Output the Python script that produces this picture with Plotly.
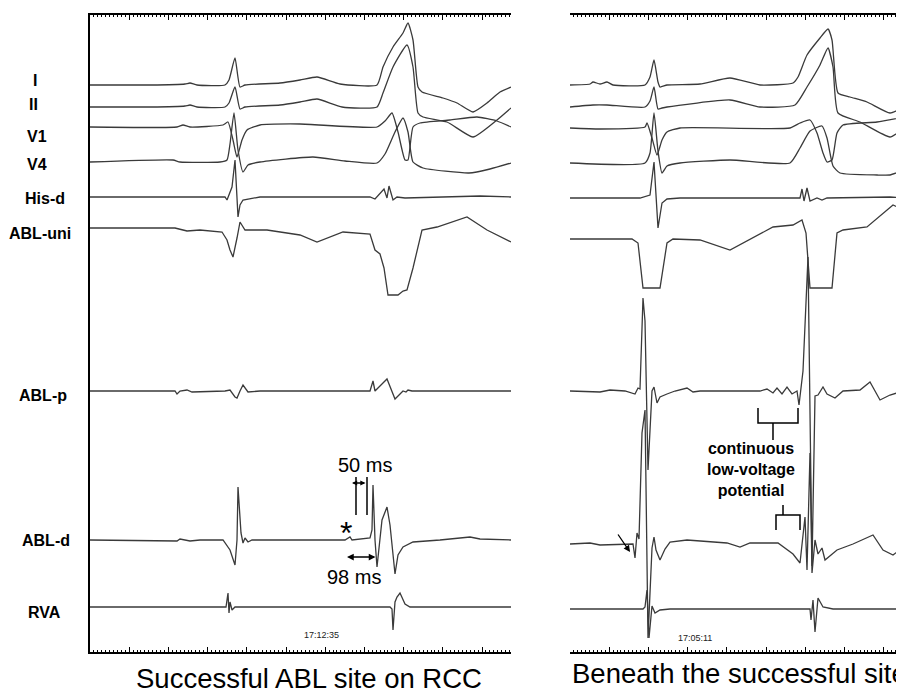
import plotly.graph_objects as go

# The page body has an 8 px margin, so the figure is drawn 8 px in from the window corner.
PAGE_OFF = 8
W, H = 904 - PAGE_OFF, 690 - PAGE_OFF

channels = ["I", "II", "V1", "V4", "His-d", "ABL-uni", "ABL-p", "ABL-d", "RVA"]

# ---------------- Left panel (Successful ABL site on RCC): time in ms, amplitude in display units
L_I_t = [0, 150, 237.5, 250, 267.5, 337.5, 347.5, 362.5, 375, 387.5, 475, 525, 567.5, 625, 717.5, 732.5, 757.5, 782.5, 795, 807.5, 820, 830, 882.5, 917.5, 957.5, 992.5, 1025, 1052.5]
L_I_v = [0, 0, 1, 2, 0, 0, 5, 27, -2, 0, 2, 5, 8, 1, 0, 18, 38, 52, 62, 45, -2, -7, -13, -18, -27, -18, -7, -2]
L_II_t = [0, 150, 237.5, 250, 267.5, 337.5, 347.5, 362.5, 375, 387.5, 475, 525, 567.5, 630, 717.5, 732.5, 757.5, 792.5, 807.5, 820, 832.5, 892.5, 957.5, 1017.5, 1052.5]
L_II_v = [0, 0, 1, 2, 0, 0, 4, 20, -2, 0, 2, 5, 8, 0, 0, 14, 40, 62, 40, -6, -10, -15, -30, -13, -1]
L_V1_t = [0, 217.5, 232.5, 250, 332.5, 345, 357.5, 367.5, 380, 392.5, 425, 525, 717.5, 737.5, 755, 770, 787.5, 795, 807.5, 825, 900, 967.5, 1017.5, 1052.5]
L_V1_v = [0, 0, 2, 0, 2, 5, -13, -30, -13, -3, 2, 3, 0, 6, 14, -5, -33, -33, 0, 4, 7, 10, 6, 0]
L_V4_t = [0, 207.5, 225, 325, 342.5, 350, 360, 370, 382.5, 395, 425, 557.5, 637.5, 717.5, 737.5, 762.5, 782.5, 795, 807.5, 832.5, 947.5, 1000, 1052.5]
L_V4_v = [0, 2, 0, 0, 2, 18, 49, 12, -10, -3, 0, 5, 1, -1, 8, 30, 44, 30, 0, -6, -11, -7, -1]
L_His_t = [0, 337.5, 342.5, 355, 362.5, 370, 375, 382.5, 425, 700, 712.5, 735, 742.5, 747.5, 757.5, 767.5, 787.5, 975, 1052.5]
L_His_v = [0, 0, -3, 10, 37, -20, -8, -3, 0, 0, -2, 8, -1, 11, -3, 0, -1, 1, 0]
L_Uni_t = [0, 212.5, 242.5, 275, 330, 342.5, 350, 357.5, 367.5, 375, 387.5, 442.5, 525, 567.5, 632.5, 700, 712.5, 720, 725, 735, 745, 770, 782.5, 792.5, 807.5, 830, 867.5, 942.5, 992.5, 1052.5]
L_Uni_v = [0, 0, -3, -2, -4, -12, -22, -29, -10, 6, -2, -2, -7, -14, -4, -6, -22, -25, -26, -40, -67, -67, -63, -62, -40, -2, 1, 11, -2, -14]
L_ABLp_t = [0, 212.5, 217.5, 225, 242.5, 255, 337.5, 350, 362.5, 367.5, 375, 382.5, 395, 425, 700, 707.5, 712.5, 725, 742.5, 762.5, 782.5, 790, 795, 805, 1052.5]
L_ABLp_v = [0, 0, -3, 0, 1, -1, 0, 1, -6, -7, 0, 6, -1, 0, 0, 10, 0, 5, 12, -8, 0, -1, 1, 0, 0]
L_ABLd_t = [0, 217.5, 225, 250, 275, 332.5, 350, 362.5, 367.5, 370, 377.5, 382.5, 387.5, 395, 405, 637.5, 650, 655, 700, 705, 707.5, 712.5, 717.5, 725, 730, 742.5, 750, 762.5, 770, 782.5, 807.5, 875, 950, 975, 1052.5]
L_ABLd_v = [0, -1, 1, -1, 0, 0, -10, -25, 0, 53, 7, -3, 2, -2, 0, 0, 3, 0, 2, 10, 55, 0, -27, 5, 20, 33, 15, -34, -15, -7, -2, 0, 3, 1, 0]
L_RVA_t = [0, 340, 345, 347.5, 350, 355, 362.5, 750, 755, 757.5, 762.5, 767.5, 775, 787.5, 800, 1052.5]
L_RVA_v = [0, 0, 14, -6, 5, -3, 0, 0, -2, -23, 5, 10, 14, 3, 0, 0]

# ---------------- Right panel (Beneath the successful site)
R_I_t = [0, 50, 57.5, 75, 92.5, 107.5, 187.5, 200, 210, 220, 225, 242.5, 325, 400, 475, 557.5, 570, 592.5, 625, 645, 655, 670, 700, 742.5, 800, 835]
R_I_v = [0, 1, 3, 1, 3, 0, 0, 8, 25, 3, -2, 0, 1, 7, 0, 2, 8, 30, 47, 56, 45, -8, -12, -17, -28, -22]
R_II_t = [0, 57.5, 92.5, 187.5, 200, 210, 220, 230, 242.5, 400, 475, 562.5, 592.5, 625, 645, 657.5, 670, 725, 800, 835]
R_II_v = [0, 2, 2, 0, 6, 20, -2, -1, 0, 7, 0, 2, 20, 42, 59, 40, -6, -15, -30, -21]
R_V1_t = [0, 75, 187.5, 192.5, 205, 217.5, 230, 242.5, 275, 550, 575, 600, 617.5, 632.5, 642.5, 655, 667.5, 682.5, 767.5, 835]
R_V1_v = [0, -1, 1, 5, -10, -27, -12, -4, 0, 0, 5, 8, -5, -25, -34, -32, -5, 3, 6, 11]
R_V4_t = [0, 187.5, 200, 210, 220, 230, 242.5, 275, 400, 550, 575, 600, 630, 642.5, 657.5, 675, 767.5, 800, 835]
R_V4_v = [0, 0, 10, 50, 12, -10, -3, 0, 3, 0, 15, 32, 37, 25, -3, -10, -12, -12, -7]
R_His_t = [0, 175, 200, 210, 220, 230, 242.5, 275, 575, 580, 585, 592.5, 600, 617.5, 630, 642.5, 800, 835]
R_His_v = [0, 0, 3, 36, -30, -5, -1, 0, 0, 9, -3, 10, -3, 0, -2, 0, 1, 0]
R_Uni_t = [0, 155, 170, 182.5, 225, 242.5, 257.5, 325, 400, 442.5, 507.5, 557.5, 580, 590, 600, 655, 667.5, 682.5, 742.5, 807.5, 835]
R_Uni_v = [0, 0, -4, -49, -49, -4, 0, -1, -11, -2, 12, 14, 19, 6, -49, -49, 6, 9, 12, 34, 29]
R_ABLp_t = [0, 75, 100, 137.5, 162.5, 170, 175, 180, 182.5, 187.5, 195, 205, 210, 217.5, 225, 242.5, 262.5, 292.5, 307.5, 325, 475, 492.5, 507.5, 517.5, 530, 542.5, 555, 567.5, 572.5, 582.5, 595, 605, 612.5, 620, 632.5, 642.5, 662.5, 682.5, 725, 750, 775, 800, 835]
R_ABLp_v = [0, -1, 1, 0, -3, 3, 2, 80, 93, 70, -79, 0, 4, -12, -6, -3, 0, 3, -1, 0, 0, 2, -2, 3, -3, 4, -3, 0, -14, 20, 134, -175, -5, -4, 4, -3, -7, 0, 1, 9, -9, -4, 0]
R_ABLd_t = [0, 50, 75, 137.5, 157.5, 162.5, 167.5, 172.5, 180, 187.5, 195, 205, 210, 215, 225, 237.5, 250, 292.5, 392.5, 425, 450, 520, 542.5, 557.5, 575, 587.5, 592.5, 600, 605, 612.5, 620, 630, 637.5, 667.5, 707.5, 757.5, 782.5, 807.5, 835]
R_ABLd_v = [0, 1, -1, 0, 0, -14, 11, 5, 111, 134, -94, -4, 7, -6, -16, -5, 2, 4, 1, -3, 1, 1, -6, -10, -19, 27, -26, 91, -29, 4, -10, -4, -16, -6, 0, 9, -6, -11, -3]
R_RVA_t = [0, 182.5, 187.5, 192.5, 197.5, 205, 212.5, 225, 250, 600, 602.5, 607.5, 612.5, 620, 632.5, 657.5, 835]
R_RVA_v = [0, 0, 2, 19, -29, 3, -4, -1, 0, 0, -11, 9, -23, 11, 2, 0, 0]

# channel baseline offsets (layout)
left_offsets = [567, 545, 525, 490, 455, 424, 261, 112, 45]
right_offsets = [567, 545, 524, 489, 454, 413, 261, 108, 43]
smooth_channels = {"I", "II", "V1", "V4"}

left_series = [(L_I_t, L_I_v), (L_II_t, L_II_v), (L_V1_t, L_V1_v), (L_V4_t, L_V4_v), (L_His_t, L_His_v),
               (L_Uni_t, L_Uni_v), (L_ABLp_t, L_ABLp_v), (L_ABLd_t, L_ABLd_v), (L_RVA_t, L_RVA_v)]
right_series = [(R_I_t, R_I_v), (R_II_t, R_II_v), (R_V1_t, R_V1_v), (R_V4_t, R_V4_v), (R_His_t, R_His_v),
                (R_Uni_t, R_Uni_v), (R_ABLp_t, R_ABLp_v), (R_ABLd_t, R_ABLd_v), (R_RVA_t, R_RVA_v)]

TRACE = "#3a3a3a"
fig = go.Figure()
for xa, ya, series, offsets in [("x", "y", left_series, left_offsets), ("x2", "y2", right_series, right_offsets)]:
    for name, (t, v), off in zip(channels, series, offsets):
        shape = "spline" if name in smooth_channels else "linear"
        fig.add_trace(go.Scatter(x=t, y=[a + off for a in v], mode="lines", name=name,
                                 line=dict(color=TRACE, width=1.3, shape=shape, smoothing=0.5),
                                 xaxis=xa, yaxis=ya, showlegend=False))

def px(x):
    return (x - PAGE_OFF) / W

def py(y):
    return 1 - (y - PAGE_OFF) / H

ydom = [py(652), py(15)]
xcommon = dict(showline=True, linecolor="black", linewidth=1.5, mirror="allticks", ticks="inside",
               ticklen=5, tickwidth=1, tickcolor="black", tick0=0, dtick=98, showticklabels=False,
               showgrid=False, zeroline=False, fixedrange=True,
               minor=dict(ticks="inside", ticklen=2.5, tickwidth=1, tickcolor="black", dtick=9.8, tick0=0, showgrid=False))
fig.update_layout(
    width=W, height=H, margin=dict(l=0, r=0, t=0, b=0),
    paper_bgcolor="white", plot_bgcolor="white",
    xaxis=dict(domain=[px(90), px(511)], range=[0, 1052.5], **xcommon),
    yaxis=dict(domain=ydom, range=[0, 637], showline=True, linecolor="black", linewidth=2,
               ticks="", showticklabels=False, showgrid=False, zeroline=False),
    xaxis2=dict(domain=[px(570), 1.0], range=[0, 835], anchor="y2", **xcommon),
    yaxis2=dict(domain=ydom, range=[0, 637], anchor="x2", showline=False,
                ticks="", showticklabels=False, showgrid=False, zeroline=False),
)

FONT = "Arial, 'Liberation Sans', sans-serif"
anns = []
label_pos = [(35, 80), (33.5, 105), (37, 136), (37, 164), (44.5, 199), (39.5, 234), (43, 395), (45.5, 540), (44, 612)]
for name, (cx, cy) in zip(channels, label_pos):
    anns.append(dict(x=px(cx), y=py(cy), xref="paper", yref="paper", text=f"<b>{name}</b>", showarrow=False,
                     xanchor="center", yanchor="middle", font=dict(family=FONT, size=16, color="black")))

anns.append(dict(x=px(309), y=py(678), xref="paper", yref="paper", text="Successful ABL site on RCC",
                 showarrow=False, xanchor="center", yanchor="middle", font=dict(family=FONT, size=27.5, color="black")))
anns.append(dict(x=px(570), y=py(673), xref="paper", yref="paper", text="Beneath the successful site",
                 showarrow=False, xanchor="left", yanchor="middle", font=dict(family=FONT, size=27.5, color="black")))
anns.append(dict(x=px(321), y=py(635), xref="paper", yref="paper", text="17:12:35", showarrow=False,
                 xanchor="center", yanchor="middle", font=dict(family=FONT, size=9, color="#222")))
anns.append(dict(x=px(694.5), y=py(638), xref="paper", yref="paper", text="17:05:11", showarrow=False,
                 xanchor="center", yanchor="middle", font=dict(family=FONT, size=9, color="#222")))
anns.append(dict(x=px(365), y=py(465), xref="paper", yref="paper", text="50 ms", showarrow=False,
                 xanchor="center", yanchor="middle", font=dict(family=FONT, size=20, color="black")))
anns.append(dict(x=px(353.5), y=py(577), xref="paper", yref="paper", text="98 ms", showarrow=False,
                 xanchor="center", yanchor="middle", font=dict(family=FONT, size=20, color="black")))
anns.append(dict(x=px(346), y=py(533), xref="paper", yref="paper", text="*", showarrow=False,
                 xanchor="center", yanchor="middle", font=dict(family=FONT, size=32, color="black")))
anns.append(dict(x=px(751), y=py(470), xref="paper", yref="paper",
                 text="<b>continuous<br>low-voltage<br>potential</b>", showarrow=False,
                 xanchor="center", yanchor="middle", align="center",
                 font=dict(family=FONT, size=16, color="black")))
# double-headed interval arrows
anns.append(dict(x=px(352), y=py(483), xref="paper", yref="paper", ax=15, ay=0, text="", showarrow=True,
                 arrowhead=2, startarrowhead=2, arrowside="end+start", arrowsize=0.8, arrowwidth=1.3, arrowcolor="black"))
anns.append(dict(x=px(347), y=py(557), xref="paper", yref="paper", ax=30, ay=0, text="", showarrow=True,
                 arrowhead=2, startarrowhead=2, arrowside="end+start", arrowsize=0.9, arrowwidth=1.5, arrowcolor="black"))
# pointer arrow
anns.append(dict(x=px(630), y=py(552), xref="paper", yref="paper", ax=-13, ay=-19, text="", showarrow=True,
                 arrowhead=2, arrowsize=1, arrowwidth=1.3, arrowcolor="black"))
fig.update_layout(annotations=anns)

def path(points):
    return "M " + " L ".join(f"{px(x):.5f},{py(y):.5f}" for x, y in points)

shapes = []
for pts in [
    [(356, 477), (356, 515)],
    [(367, 477), (367, 515)],
    [(758, 408), (758, 423), (798, 423), (798, 408)],
    [(773, 423), (773, 440)],
    [(776, 530), (776, 515), (800, 515), (800, 530)],
    [(783, 515), (783, 505)],
]:
    shapes.append(dict(type="path", path=path(pts), xref="paper", yref="paper",
                       line=dict(color="black", width=1.5)))
fig.update_layout(shapes=shapes)

fig.write_html("out.html")
